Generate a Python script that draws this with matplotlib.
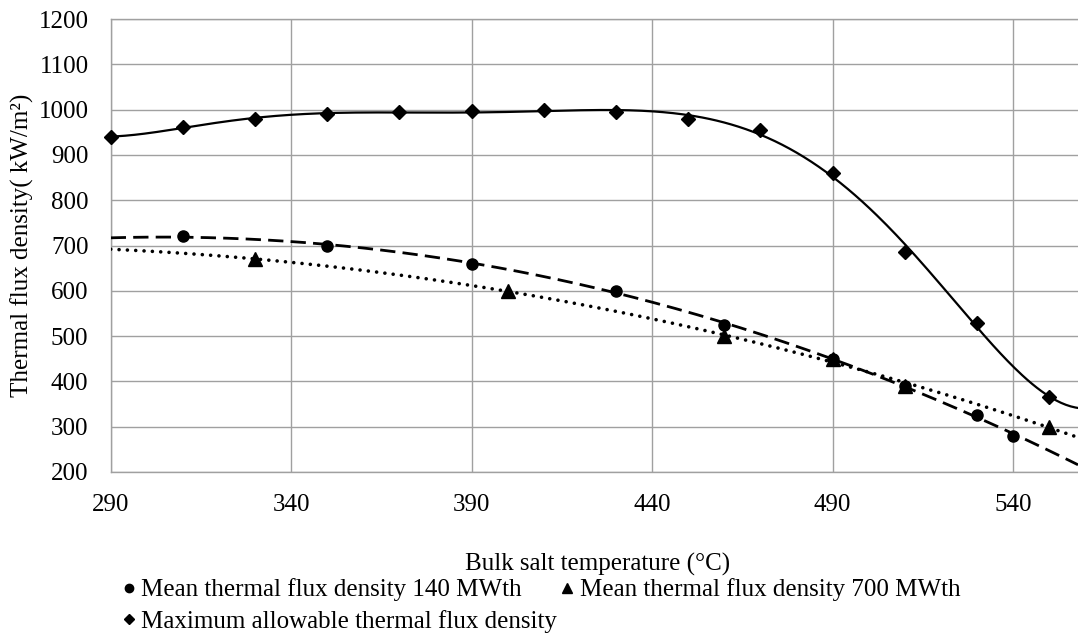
import numpy as np
import matplotlib
matplotlib.use("Agg")
import matplotlib.pyplot as plt
from matplotlib.lines import Line2D

# data
temp_140 = [310, 350, 390, 430, 460, 490, 510, 530, 540]
flux_140 = [720, 700, 660, 600, 525, 450, 390, 325, 280]

temp_700 = [330, 400, 460, 490, 510, 550]
flux_700 = [670, 600, 500, 450, 390, 300]

temp_max = [290, 310, 330, 350, 370, 390, 410, 430, 450, 470, 490, 510, 530, 550]
flux_max = [940, 962, 980, 990, 995, 997, 999, 994, 980, 955, 860, 685, 530, 365]

x_ticks = [290, 340, 390, 440, 490, 540]
y_ticks = list(range(200, 1300, 100))

label_140 = "Mean thermal flux density 140 MWth"
label_700 = "Mean thermal flux density 700 MWth"
label_max = "Maximum allowable thermal flux density"

plt.rcParams['font.family'] = ['Liberation Serif', 'DejaVu Serif']
FS = 18

fig = plt.figure(figsize=(10.78, 6.35), dpi=100)
ax = fig.add_axes([0.1027, 0.2567, 0.8973, 0.7133])

x_min, x_max = 290, 558
xs = np.linspace(x_min, x_max, 400)


def trend(x, y, deg):
    p = np.polynomial.Polynomial.fit(x, y, deg)
    return p(xs)


# polynomial trendlines, like the spreadsheet ones
ax.plot(xs, trend(temp_140, flux_140, 2), color='black', lw=2.0,
        dashes=(5.5, 2.6), zorder=3)
ax.plot(xs, trend(temp_700, flux_700, 2), color='black', lw=2.6,
        linestyle=(0, (0.01, 2.3)), dash_capstyle='round', zorder=3)
ax.plot(xs, trend(temp_max, flux_max, 6), color='black', lw=1.6, zorder=3)

ax.plot(temp_140, flux_140, 'o', color='black', ms=8, zorder=4, clip_on=False)
ax.plot(temp_700, flux_700, '^', color='black', ms=10, zorder=4, clip_on=False)
ax.plot(temp_max, flux_max, 'D', color='black', ms=7.5, zorder=4, clip_on=False)

ax.set_xlim(x_min, x_max)
ax.set_ylim(200, 1200)
ax.set_xticks(x_ticks)
ax.set_yticks(y_ticks)
ax.grid(True, color='#a0a0a0', lw=1.0)
ax.set_axisbelow(True)
ax.tick_params(length=0, labelsize=FS, pad=16)
for side in ['top', 'left', 'bottom']:
    ax.spines[side].set_color('#a0a0a0')
    ax.spines[side].set_linewidth(1.0)
ax.spines['right'].set_visible(False)

fig.text(0.5545, 1 - 564 / 635, "Bulk salt temperature (°C)", fontsize=FS,
         ha='center', va='center')
fig.text(22 / 1078, 1 - 245 / 635, "Thermal flux density( kW/m²)", fontsize=FS,
         ha='center', va='center', rotation=90)

h140 = Line2D([], [], marker='o', color='black', ls='none', ms=6)
h700 = Line2D([], [], marker='^', color='black', ls='none', ms=7)
hmax = Line2D([], [], marker='D', color='black', ls='none', ms=5)
leg_opts = dict(loc='upper left', frameon=False, fontsize=FS, handlelength=0.6,
                handletextpad=0.2, labelspacing=0.35, borderpad=0,
                borderaxespad=0)
fig.legend([h140, hmax], [label_140, label_max],
           bbox_to_anchor=(121 / 1078, 0.089), **leg_opts)
fig.legend([h700], [label_700], bbox_to_anchor=(559.5 / 1078, 0.089), **leg_opts)

fig.savefig("out.png", dpi=100)
